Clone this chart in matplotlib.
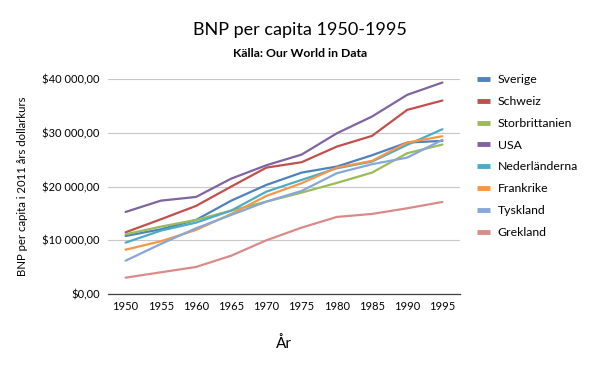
import matplotlib
matplotlib.use('Agg')
import matplotlib.pyplot as plt
from matplotlib.ticker import FuncFormatter

plt.rcParams['font.family'] = ['Lato', 'DejaVu Sans']

years = [1950, 1955, 1960, 1965, 1970, 1975, 1980, 1985, 1990, 1995]
countries = ['Sverige', 'Schweiz', 'Storbrittanien', 'USA',
             'Nederländerna', 'Frankrike', 'Tyskland', 'Grekland']

sverige = [10800, 12040, 13780, 17370, 20300, 22590, 23710, 25820, 28180, 28490]
schweiz = [11480, 13900, 16390, 19990, 23520, 24520, 27430, 29420, 34260, 36000]
storbrittanien = [11110, 12540, 13780, 15520, 17190, 18870, 20670, 22590, 26200, 27810]
usa = [15270, 17370, 18060, 21470, 23960, 25940, 29900, 33020, 37060, 39350]
nederlanderna = [9560, 11790, 13280, 15520, 19050, 21230, 23400, 24640, 27750, 30660]
frankrike = [8250, 9810, 11920, 14900, 18250, 20610, 23520, 24770, 28180, 29360]
tyskland = [6200, 9310, 12230, 14710, 17190, 19180, 22470, 24150, 25380, 28680]
grekland = [3040, 4040, 5030, 7130, 10000, 12350, 14340, 14900, 15950, 17130]

series = [sverige, schweiz, storbrittanien, usa, nederlanderna, frankrike, tyskland, grekland]
colours = ['#4F81BD', '#C0504D', '#9BBB59', '#8064A2',
           '#4BACC6', '#F79646', '#86A8D8', '#DA8B89']

fig = plt.figure(figsize=(6, 3.71), dpi=100)
ax = fig.add_axes([0.18, 0.2075, 0.5867, 0.5795])

for name, vals, c in zip(countries, series, colours):
    ax.plot(years, vals, color=c, lw=1.6, label=name, solid_capstyle='round')

ax.set_xlim(1947.5, 1997.5)
ax.set_ylim(0, 40000)
ax.set_xticks(years)
ax.set_yticks([0, 10000, 20000, 30000, 40000])


def money(v, pos):
    s = f"{int(v):,}".replace(',', ' ')
    return f"${s},00"


ax.yaxis.set_major_formatter(FuncFormatter(money))
ax.grid(axis='y', color='#C8C8C8', lw=0.8)
ax.set_axisbelow(True)
for s in ['top', 'right', 'left']:
    ax.spines[s].set_visible(False)
ax.spines['bottom'].set_color('#404040')
ax.spines['bottom'].set_linewidth(0.9)
ax.tick_params(axis='both', length=0, labelsize=8, colors='#000000')
ax.tick_params(axis='y', pad=6)
ax.tick_params(axis='x', pad=5)

ax.set_ylabel('BNP per capita i 2011 års dollarkurs', fontsize=8.2, labelpad=10)
fig.text(0.4733, 0.075, 'År', ha='center', va='center', fontsize=11)

fig.text(0.5, 0.918, 'BNP per capita 1950-1995', ha='center', va='center', fontsize=13)
fig.text(0.5, 0.856, 'Källa: Our World in Data', ha='center', va='center',
         fontsize=8.8, fontweight='bold')

leg = ax.legend(loc='upper left', bbox_to_anchor=(1.018, 1.075), frameon=False,
                fontsize=8.8, handlelength=1.05, handleheight=0.6,
                labelspacing=0.89, handletextpad=0.6)
for h in leg.get_lines():
    h.set_linewidth(3.5)
    h.set_solid_capstyle('butt')

fig.savefig('out.png', dpi=100)
